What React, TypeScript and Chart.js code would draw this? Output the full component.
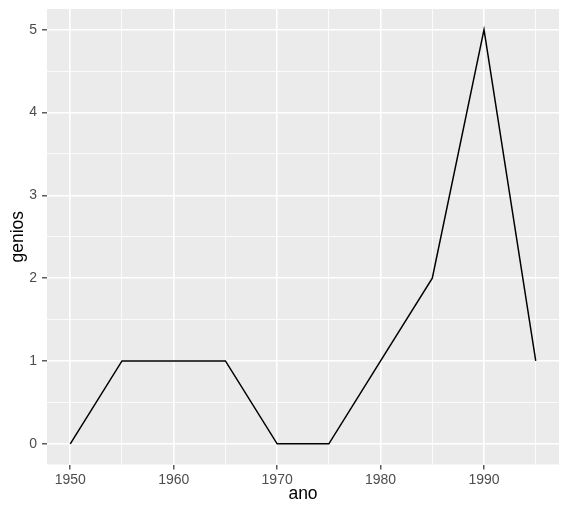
import React, { useEffect, useRef } from "react";
import { Chart, registerables } from "chart.js";

Chart.register(...registerables);

const anos = [1950, 1955, 1960, 1965, 1970, 1975, 1980, 1985, 1990, 1995];
const genios = [0, 1, 1, 1, 0, 0, 1, 2, 5, 1];
const xTicks = [1950, 1955, 1960, 1965, 1970, 1975, 1980, 1985, 1990, 1995];
const xMajor = [1950, 1960, 1970, 1980, 1990];
const yTicks = [0, 0.5, 1, 1.5, 2, 2.5, 3, 3.5, 4, 4.5, 5];
const yMajor = [0, 1, 2, 3, 4, 5];

const panelBg = {
  id: "panelBg",
  beforeDraw(chart: any) {
    const { ctx, chartArea } = chart;
    ctx.save();
    ctx.fillStyle = "#EBEBEB";
    ctx.fillRect(chartArea.left, chartArea.top, chartArea.right - chartArea.left, chartArea.bottom - chartArea.top);
    ctx.restore();
  },
};

const FONT = "Liberation Sans, Arial, sans-serif";

export default function App() {
  const ref = useRef<HTMLCanvasElement>(null);
  useEffect(() => {
    document.body.style.margin = "0";
    const isMajor = (arr: number[], v: number) => arr.some((m) => Math.abs(m - v) < 1e-9);
    const chart = new Chart(ref.current!, {
      type: "line",
      data: {
        datasets: [
          {
            data: anos.map((a, i) => ({ x: a, y: genios[i] })),
            borderColor: "#000000",
            borderWidth: 1.5,
            pointRadius: 0,
            tension: 0,
            fill: false,
          },
        ],
      },
      options: {
        animation: false,
        responsive: false,
        maintainAspectRatio: false,
        layout: { padding: { top: 9, right: 9, left: 0, bottom: 0 } },
        plugins: { legend: { display: false }, tooltip: { enabled: false } },
        scales: {
          x: {
            type: "linear",
            min: 1947.75,
            max: 1997.25,
            afterBuildTicks: (s: any) => {
              s.ticks = xTicks.map((v) => ({ value: v }));
            },
            afterFit: (s: any) => {
              s.height = 51.5;
              s.paddingLeft = 0;
              s.paddingRight = 0;
            },
            border: { display: false },
            grid: {
              color: () => "#FFFFFF",
              lineWidth: (c: any) => (isMajor(xMajor, c.tick?.value) ? 1.6 : 0.8),
              tickColor: (c: any) => (isMajor(xMajor, c.tick?.value) ? "#333333" : "rgba(0,0,0,0)"),
              tickLength: 5,
              tickWidth: 1.2,
            },
            ticks: {
              autoSkip: false,
              maxRotation: 0,
              padding: 2,
              color: "#4D4D4D",
              font: { family: FONT, size: 14 },
              callback: (v: any) => (isMajor(xMajor, Number(v)) ? String(v) : ""),
            },
            title: {
              display: true,
              text: "ano",
              color: "#000000",
              font: { family: FONT, size: 17.5 },
              padding: { top: 0, bottom: 11 },
            },
          },
          y: {
            type: "linear",
            min: -0.25,
            max: 5.25,
            afterBuildTicks: (s: any) => {
              s.ticks = yTicks.map((v) => ({ value: v }));
            },
            afterFit: (s: any) => {
              s.width = 47;
              s.paddingTop = 0;
              s.paddingBottom = 0;
            },
            border: { display: false },
            grid: {
              color: () => "#FFFFFF",
              lineWidth: (c: any) => (isMajor(yMajor, c.tick?.value) ? 1.6 : 0.8),
              tickColor: (c: any) => (isMajor(yMajor, c.tick?.value) ? "#333333" : "rgba(0,0,0,0)"),
              tickLength: 5,
              tickWidth: 1.2,
            },
            ticks: {
              autoSkip: false,
              padding: 5,
              color: "#4D4D4D",
              font: { family: FONT, size: 14 },
              callback: (v: any) => (isMajor(yMajor, Number(v)) ? String(v) : ""),
            },
            title: {
              display: true,
              text: "genios",
              color: "#000000",
              font: { family: FONT, size: 17.5 },
              padding: { top: 7.5, bottom: 0 },
            },
          },
        },
      },
      plugins: [panelBg],
    });
    return () => chart.destroy();
  }, []);
  return (
    <div style={{ width: 568, height: 516 }}>
      <canvas ref={ref} width={568} height={516} style={{ display: "block" }} />
    </div>
  );
}
